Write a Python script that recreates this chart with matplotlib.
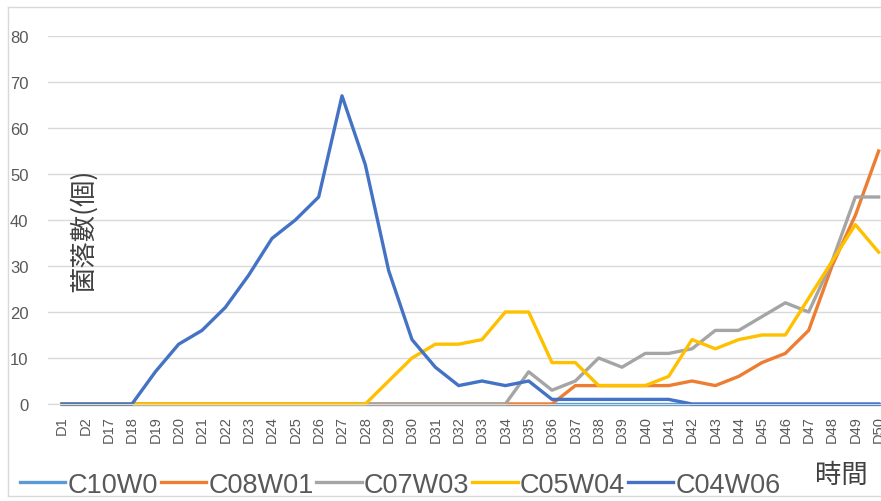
import numpy as np
import matplotlib
matplotlib.use("Agg")
from matplotlib import pyplot as plt
from matplotlib.lines import Line2D

days = ["D1", "D2"] + ["D%d" % d for d in range(17, 51)]

c10w0 = [0] * 36
c08w01 = [0] * 21 + [0, 4, 4, 4, 4, 4, 5, 4, 6, 9, 11, 16, 30, 41, 55]
c07w03 = [0] * 20 + [7, 3, 5, 10, 8, 11, 11, 12, 16, 16, 19, 22, 20, 31, 45, 45]
c05w04 = [0] * 14 + [5, 10, 13, 13, 14, 20, 20, 9, 9, 4, 4, 4, 6, 14, 12, 14, 15, 15, 23, 31, 39, 33]
c04w06 = [0, 0, 0, 0, 7, 13, 16, 21, 28, 36, 40, 45, 67, 52, 29, 14, 8, 4, 5, 4, 5,
          1, 1, 1, 1, 1, 1, 0, 0, 0, 0, 0, 0, 0, 0, 0]

names = ["C10W0", "C08W01", "C07W03", "C05W04", "C04W06"]
series = [c10w0, c08w01, c07w03, c05w04, c04w06]
colors = ["#5B9BD5", "#ED7D31", "#A5A5A5", "#FFC000", "#4472C4"]

latin = ["Liberation Sans", "DejaVu Sans"]
cjk = ["Noto Sans CJK TC", "DejaVu Sans"]

fig = plt.figure(figsize=(8.81, 5.02), dpi=100)
ax = fig.add_axes([48 / 881, 97 / 502, 833 / 881, 368 / 502])

x = np.arange(len(days))
for name, vals, c in zip(names, series, colors):
    ax.plot(x, vals, color=c, lw=2.4, label=name, clip_on=False,
            solid_joinstyle="round")

ax.set_xlim(-0.6, 35.1)
ax.set_ylim(0, 80)
ax.set_yticks(range(0, 81, 10))
ax.set_xticks(x)
ax.set_xticklabels(days, rotation=90, fontsize=10.5, family=latin, color="#595959")
for t in ax.get_yticklabels():
    t.set_family(latin)
    t.set_fontsize(12)
    t.set_color("#595959")
ax.tick_params(length=0, pad=8)
ax.tick_params(axis="y", pad=14)
ax.grid(axis="y", color="#d9d9d9", lw=1)
ax.set_axisbelow(True)
for s in ["top", "right", "left"]:
    ax.spines[s].set_visible(False)
ax.spines["bottom"].set_color("#d9d9d9")

fig.text(83 / 881, 1 - 230 / 502, "菌落數(個)", rotation=90, fontsize=19,
         family=cjk, color="#404040", ha="center", va="center")
fig.text(841 / 881, 1 - 475 / 502, "時間", fontsize=19, family=cjk,
         color="#404040", ha="center", va="center")

fig.legend(loc="lower left", bbox_to_anchor=(0.004, -0.026), ncol=5, frameon=False,
           prop={"family": latin, "size": 19.5}, handlelength=1.68,
           handletextpad=0.08, columnspacing=0.1, borderaxespad=0.2,
           labelcolor="#595959")

# chart border
fig.add_artist(Line2D([8 / 881, 8 / 881], [1 - 8 / 502, 1 - 497 / 502],
                      color="#d9d9d9", lw=1))
fig.add_artist(Line2D([8 / 881, 1], [1 - 497 / 502, 1 - 497 / 502],
                      color="#d9d9d9", lw=1))
fig.add_artist(Line2D([8 / 881, 1], [1 - 8 / 502, 1 - 8 / 502],
                      color="#d9d9d9", lw=1))

fig.savefig("out.png", dpi=100)
